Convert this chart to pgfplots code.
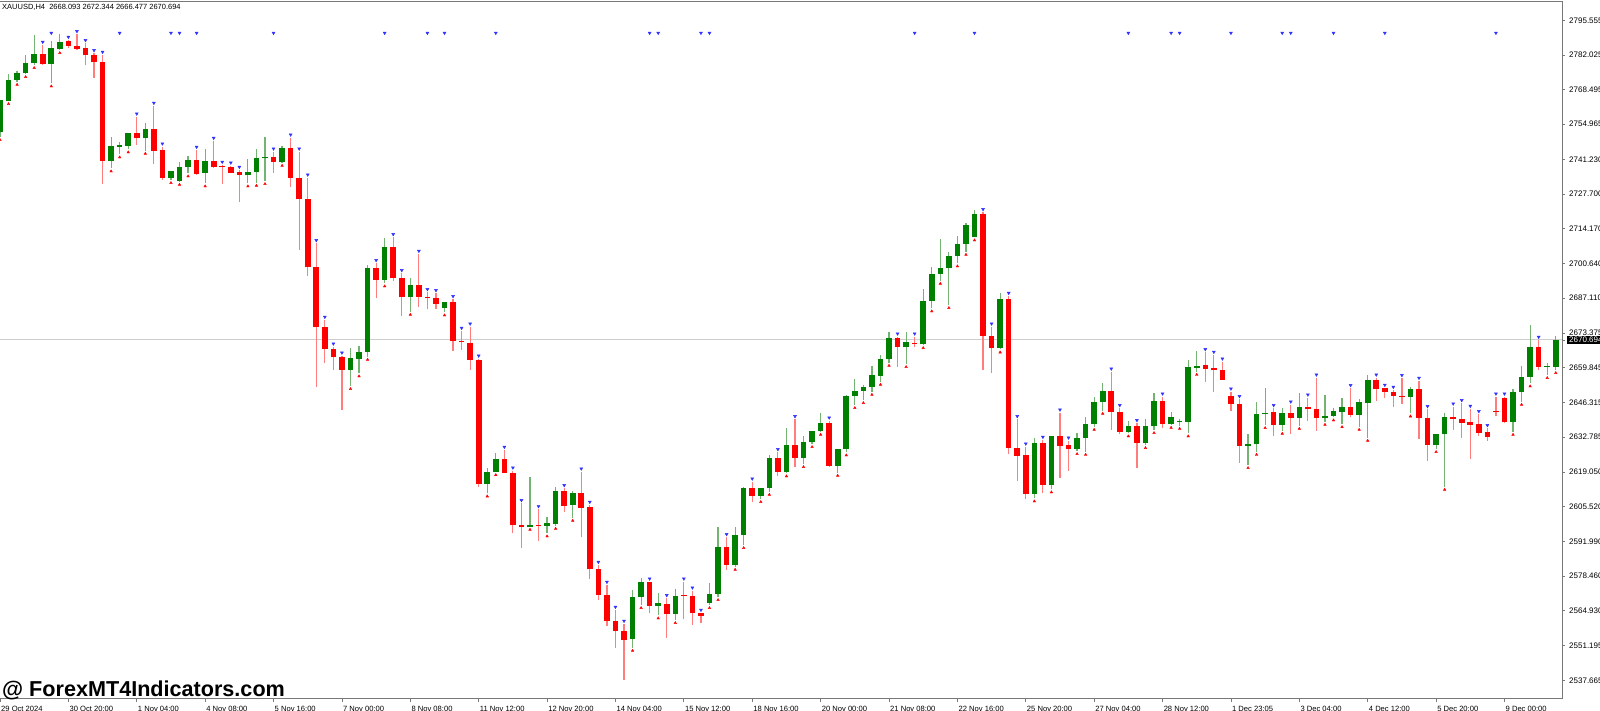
\documentclass[border=0pt]{standalone}
\usepackage{pgfplots}
\pgfplotsset{compat=1.18}
\usepackage{pgfplotstable}
\usepackage{fontspec}
\setmainfont{Liberation Sans}
\definecolor{cgreen}{RGB}{0,128,0}
\definecolor{cred}{RGB}{255,0,0}
\definecolor{wgreen}{RGB}{115,180,115}
\definecolor{wred}{RGB}{255,125,125}
\definecolor{axgray}{RGB}{120,120,120}
\definecolor{pline}{RGB}{205,205,205}
\definecolor{mblue}{RGB}{50,50,255}

\pgfplotstableread{
x o h l c
0 2752.05 2764.44 2749.98 2764.44
1 2764.16 2774.59 2764.05 2772.25
2 2772.25 2775.77 2771.59 2774.87
3 2774.87 2782.02 2774.59 2778.77
4 2778.77 2789.83 2778.11 2782.29
6 2778.50 2787.48 2770.96 2784.63
7 2784.48 2790.10 2783.97 2787.09
13 2740.61 2749.87 2737.76 2746.47
14 2746.20 2748.15 2743.23 2746.86
15 2746.59 2751.66 2745.18 2751.66
17 2749.48 2755.57 2744.63 2752.99
20 2734.09 2736.70 2733.19 2736.70
21 2732.80 2740.34 2732.52 2738.38
22 2738.15 2742.56 2735.80 2741.00
24 2735.80 2745.18 2731.90 2740.61
29 2735.02 2741.27 2731.90 2736.43
30 2736.31 2745.41 2732.13 2741.66
31 2741.66 2750.10 2732.80 2742.05
33 2740.34 2746.47 2739.95 2745.80
41 2658.97 2667.45 2652.72 2663.54
42 2663.27 2668.34 2657.68 2666.12
43 2666.12 2699.98 2664.16 2698.70
45 2694.12 2710.41 2692.84 2706.90
48 2687.37 2695.02 2681.74 2692.05
52 2683.07 2685.65 2681.51 2685.65
57 2614.44 2620.80 2610.80 2619.24
58 2619.24 2626.43 2619.12 2624.09
62 2597.76 2617.29 2597.76 2598.54
64 2598.15 2601.43 2595.18 2599.09
65 2598.81 2613.38 2598.15 2611.70
67 2606.23 2611.82 2601.27 2610.80
74 2553.77 2573.03 2550.49 2570.18
75 2570.18 2577.60 2567.17 2576.16
77 2566.90 2571.74 2563.15 2567.84
79 2563.66 2573.30 2561.31 2570.80
83 2568.07 2575.65 2567.17 2571.47
84 2571.47 2597.52 2570.30 2589.95
86 2582.80 2597.52 2582.13 2594.52
87 2594.52 2613.38 2590.61 2612.99
89 2609.87 2612.76 2608.58 2612.76
90 2612.76 2625.77 2611.43 2624.48
92 2619.01 2636.43 2618.62 2629.67
94 2624.48 2633.19 2622.25 2630.73
95 2630.73 2635.26 2630.06 2635.26
96 2635.26 2642.05 2634.87 2638.15
98 2621.47 2628.11 2618.85 2628.11
99 2628.11 2649.20 2626.82 2648.81
100 2648.81 2655.34 2645.30 2650.88
101 2650.88 2653.11 2647.25 2652.21
102 2652.21 2660.65 2650.49 2657.02
103 2656.74 2664.83 2654.40 2663.27
104 2663.15 2673.70 2661.82 2671.59
106 2667.84 2673.70 2661.31 2669.91
108 2669.01 2690.61 2668.73 2686.04
109 2686.04 2699.09 2683.07 2696.47
110 2696.47 2710.14 2693.85 2698.81
111 2698.81 2705.18 2684.36 2703.62
112 2703.62 2711.31 2700.65 2708.19
113 2708.19 2716.27 2705.18 2715.61
114 2711.04 2721.47 2710.80 2719.79
117 2667.68 2688.93 2667.05 2686.70
121 2610.53 2632.29 2608.85 2630.34
123 2614.05 2633.30 2612.37 2633.30
126 2627.99 2634.24 2627.33 2632.29
127 2632.29 2640.49 2627.05 2637.76
128 2637.76 2648.54 2636.82 2646.59
129 2646.59 2654.01 2643.07 2650.88
132 2634.63 2639.16 2634.24 2637.21
134 2630.34 2639.71 2629.67 2637.21
135 2637.21 2649.87 2635.53 2646.86
137 2637.99 2642.45 2637.60 2640.49
138 2638.77 2639.95 2637.21 2639.05
139 2638.77 2662.87 2634.24 2660.02
140 2659.87 2666.51 2658.30 2660.53
146 2629.28 2633.85 2621.86 2629.95
147 2629.95 2646.59 2627.05 2641.90
148 2641.78 2651.82 2637.48 2642.29
150 2637.60 2644.01 2635.26 2642.29
152 2640.34 2649.98 2637.21 2644.52
155 2640.34 2649.20 2638.77 2641.00
156 2641.00 2644.01 2640.49 2642.76
157 2642.68 2648.15 2637.87 2644.63
159 2641.39 2647.64 2636.82 2646.35
160 2646.20 2657.02 2632.52 2655.06
165 2648.54 2652.45 2642.05 2651.43
168 2629.67 2633.85 2628.11 2633.85
169 2633.85 2642.29 2613.38 2640.73
177 2638.77 2651.43 2634.87 2650.49
178 2650.49 2660.53 2646.59 2656.23
179 2656.23 2676.55 2653.77 2668.07
181 2660.14 2661.82 2657.02 2660.53
182 2660.26 2672.34 2658.97 2670.69
}\greendata

\pgfplotstableread{
x o h l c
5 2782.29 2785.92 2778.11 2778.50
8 2787.37 2787.87 2784.63 2785.53
9 2785.53 2790.10 2783.97 2784.48
10 2784.63 2786.59 2777.99 2781.90
11 2782.02 2782.68 2773.15 2779.40
12 2779.40 2782.02 2731.51 2740.61
16 2751.66 2757.91 2746.86 2749.48
18 2752.99 2762.09 2739.44 2744.63
19 2744.91 2746.20 2733.19 2734.09
23 2741.00 2744.91 2735.14 2735.65
25 2740.61 2748.42 2737.76 2738.38
26 2738.66 2739.05 2731.51 2738.38
27 2738.15 2738.77 2735.80 2736.04
28 2736.20 2737.09 2724.71 2735.14
32 2742.05 2744.24 2736.04 2740.10
34 2745.80 2749.71 2730.57 2734.09
35 2734.09 2744.24 2705.84 2725.65
36 2725.77 2734.09 2695.80 2699.09
37 2699.09 2708.46 2652.21 2675.65
38 2675.65 2678.50 2661.59 2667.17
39 2667.17 2668.07 2658.97 2663.93
40 2663.93 2664.55 2643.34 2658.97
44 2698.70 2700.65 2687.21 2694.12
46 2706.90 2710.80 2693.85 2695.02
47 2695.02 2696.74 2680.18 2687.37
49 2692.05 2704.28 2683.46 2687.60
50 2687.60 2689.32 2682.68 2687.09
51 2686.98 2688.93 2682.91 2684.87
53 2685.65 2686.59 2666.51 2670.30
54 2670.41 2674.20 2666.78 2669.79
55 2669.63 2675.88 2658.97 2662.87
56 2662.87 2663.38 2613.38 2614.44
59 2624.09 2627.72 2618.62 2618.85
60 2618.85 2619.63 2595.18 2598.30
61 2598.30 2606.90 2589.55 2597.76
63 2598.54 2604.55 2592.29 2598.15
66 2611.70 2612.76 2603.38 2605.96
68 2611.04 2619.24 2593.62 2605.18
69 2605.34 2606.23 2577.33 2581.12
70 2581.12 2582.80 2569.12 2571.08
71 2571.08 2574.98 2558.97 2560.80
72 2560.92 2565.22 2550.49 2557.13
73 2557.13 2559.75 2537.87 2553.50
76 2576.16 2576.27 2563.93 2566.90
78 2567.68 2569.79 2554.40 2563.66
80 2571.08 2576.27 2561.59 2570.69
81 2570.80 2572.76 2559.36 2563.93
82 2563.93 2564.05 2560.02 2562.87
85 2589.95 2593.62 2580.84 2582.80
88 2612.99 2615.34 2607.29 2609.87
91 2624.48 2626.82 2617.68 2619.01
93 2629.67 2639.71 2620.96 2624.48
97 2638.15 2639.16 2621.20 2621.47
105 2671.59 2671.98 2660.26 2667.84
107 2669.63 2671.98 2668.07 2669.12
115 2719.79 2720.57 2658.97 2672.25
116 2672.25 2675.88 2657.91 2667.68
118 2686.70 2687.87 2626.04 2628.38
119 2628.62 2639.71 2615.61 2625.49
120 2625.77 2629.01 2608.46 2610.53
122 2630.34 2631.62 2610.80 2614.05
124 2633.30 2642.29 2616.66 2629.40
125 2629.55 2631.35 2619.52 2627.99
130 2650.88 2658.30 2635.53 2642.68
131 2642.68 2644.01 2633.85 2634.75
133 2637.09 2638.15 2620.80 2630.34
136 2646.86 2648.54 2636.20 2637.99
141 2660.80 2665.88 2654.40 2659.48
142 2659.63 2664.83 2650.49 2658.85
143 2658.97 2662.21 2655.18 2655.18
144 2648.93 2650.49 2643.07 2645.80
145 2645.80 2647.52 2622.76 2629.28
149 2642.56 2644.01 2633.30 2637.60
151 2642.29 2645.41 2634.09 2640.34
153 2644.52 2648.15 2639.16 2643.62
154 2643.73 2655.96 2635.26 2640.34
158 2644.63 2651.82 2640.49 2641.39
161 2655.06 2655.96 2646.98 2651.55
162 2651.82 2651.94 2647.91 2650.49
163 2650.37 2651.16 2644.40 2648.81
164 2648.81 2655.73 2645.57 2648.54
166 2651.43 2654.67 2631.90 2640.34
167 2640.34 2643.62 2623.54 2629.67
170 2640.73 2644.63 2635.53 2639.71
171 2639.71 2645.96 2632.52 2638.38
172 2638.54 2643.73 2624.09 2637.48
173 2637.76 2641.66 2633.19 2634.48
174 2634.63 2636.20 2631.23 2632.91
175 2643.07 2648.54 2641.00 2642.68
176 2647.91 2648.54 2638.38 2638.77
180 2668.07 2670.69 2658.97 2660.26
}\reddata

\pgfplotstableread{
x y
6 2790.6
14 2790.6
20 2790.6
21 2790.6
23 2790.6
32 2790.6
45 2790.6
50 2790.6
52 2790.6
58 2790.6
76 2790.6
77 2790.6
82 2790.6
83 2790.6
107 2790.6
114 2790.6
132 2790.6
137 2790.6
138 2790.6
144 2790.6
150 2790.6
151 2790.6
156 2790.6
162 2790.6
175 2790.6
}\topmarks

\begin{document}
\begin{tikzpicture}
\begin{axis}[
  name=main,
  at={(0pt,12pt)}, anchor=south west,
  width=1562pt, height=697pt, scale only axis,
  xmin=0, xmax=182.73, ymin=2530.45, ymax=2802.72,
  axis line style={draw=none},
  tick align=outside, major tick length=3pt,
  tick style={draw=axgray, line width=0.8pt},
  xtick pos=left, ytick pos=right,
  xticklabel pos=left, yticklabel pos=right,
  xtick={0,8,...,176},
  xticklabels={29 Oct 2024, 30 Oct 20:00, 1 Nov 04:00, 4 Nov 08:00, 5 Nov 16:00, 7 Nov 00:00, 8 Nov 08:00, 11 Nov 12:00, 12 Nov 20:00, 14 Nov 04:00, 15 Nov 12:00, 18 Nov 16:00, 20 Nov 00:00, 21 Nov 08:00, 22 Nov 16:00, 25 Nov 20:00, 27 Nov 04:00, 28 Nov 12:00, 1 Dec 23:05, 3 Dec 04:00, 4 Dec 12:00, 5 Dec 20:00, 9 Dec 00:00},
  ytick={2537.665,2551.195,2564.930,2578.460,2591.990,2605.520,2619.050,2632.785,2646.315,2659.845,2673.375,2687.110,2700.640,2714.170,2727.700,2741.230,2754.965,2768.495,2782.025,2795.555},
  yticklabels={2537.665,2551.195,2564.930,2578.460,2591.990,2605.520,2619.050,2632.785,2646.315,2659.845,2673.375,2687.110,2700.640,2714.170,2727.700,2741.230,2754.965,2768.495,2782.025,2795.555},
  xticklabel style={anchor=north west, inner sep=0pt, xshift=1pt, yshift=-4pt, font=\fontsize{7.6}{8}\selectfont},
  yticklabel style={anchor=west, inner sep=0pt, xshift=4pt, font=\fontsize{8}{9}\selectfont},
  extra y ticks={2670.694},
  extra y tick labels={2670.694},
  extra y tick style={yticklabel style={fill=black, text=white, inner xsep=2pt, inner ysep=0.8pt, xshift=-2pt}},
]
% current price line
\addplot[pline, line width=1pt, forget plot] coordinates {(0,2670.694) (182.73,2670.694)};
% wicks
\addplot[draw=none, mark=none, forget plot,
  error bars/.cd, y dir=plus, y explicit, error mark=none,
  error bar style={draw=wgreen, line width=1.2pt}]
  table[x=x, y=l, y error plus expr=\thisrow{h}-\thisrow{l}] {\greendata};
\addplot[draw=none, mark=none, forget plot,
  error bars/.cd, y dir=plus, y explicit, error mark=none,
  error bar style={draw=wred, line width=1.2pt}]
  table[x=x, y=l, y error plus expr=\thisrow{h}-\thisrow{l}] {\reddata};
% bodies
\addplot[draw=none, mark=none, forget plot,
  error bars/.cd, y dir=plus, y explicit, error mark=none,
  error bar style={draw=cgreen, line width=5.6pt}]
  table[x=x, y=o, y error plus expr={max(\thisrow{c}-\thisrow{o},0.45)}] {\greendata};
\addplot[draw=none, mark=none, forget plot,
  error bars/.cd, y dir=plus, y explicit, error mark=none,
  error bar style={draw=cred, line width=5.6pt}]
  table[x=x, y=c, y error plus expr={max(\thisrow{o}-\thisrow{c},0.45)}] {\reddata};
% indicator marks
\addplot[only marks, mark=triangle*, mark size=1.7pt, forget plot,
  mark options={yshift=3pt, rotate=180, draw=mblue, fill=mblue}]
  table[x=x, y=h] {\reddata};
\addplot[only marks, mark=triangle*, mark size=1.5pt, forget plot,
  mark options={yshift=-3pt, draw=cred, fill=cred}]
  table[x=x, y=l] {\greendata};
\addplot[only marks, mark=triangle*, mark size=1.7pt, forget plot,
  mark options={rotate=180, draw=mblue, fill=mblue}]
  table[x=x, y=y] {\topmarks};
\end{axis}
\draw[axgray, line width=1pt] (main.south west) -- (main.south east) -- (main.north east) -- (main.north west);
\node[anchor=west, inner sep=0pt, font=\fontsize{7.5}{8}\selectfont] at ([xshift=2pt, yshift=-5pt]main.north west) {XAUUSD,H4\ \ 2668.093 2672.344 2666.477 2670.694};
\node[anchor=base west, inner sep=0pt, font=\bfseries\fontsize{21.6}{22}\selectfont] at (2pt,14pt) {@ ForexMT4Indicators.com};
\pgfresetboundingbox
\useasboundingbox (0pt,0pt) rectangle (1600pt,711pt);
\end{tikzpicture}
\end{document}
